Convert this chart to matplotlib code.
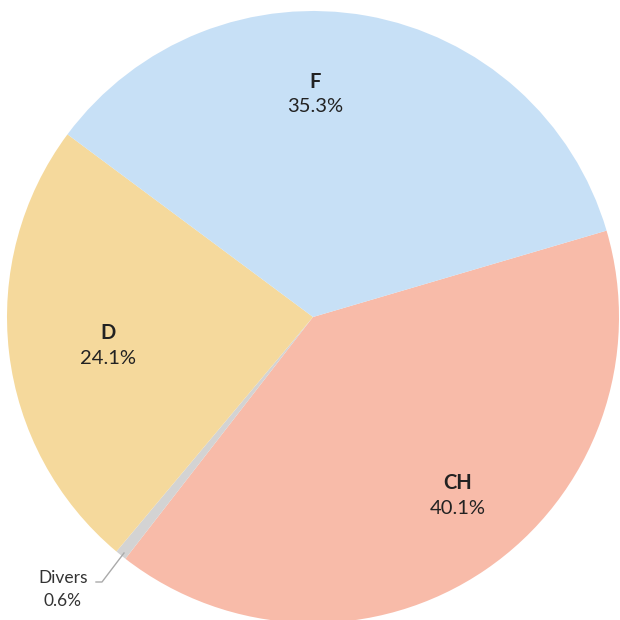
import matplotlib
matplotlib.use("Agg")
import matplotlib.pyplot as plt

labels = ["CH", "Divers", "D", "F"]
shares = [40.1, 0.6, 24.1, 35.3]
colors = ["#f8bba9", "#d3d3d3", "#f5d99c", "#c7e0f6"]

plt.rcParams["font.family"] = ["Lato", "DejaVu Sans"]

fig = plt.figure(figsize=(6.2, 6.2), dpi=100)
ax = fig.add_axes([0, 0, 1, 1])

cx, cy, r = 313, 620 - 317, 306
ax.pie(shares, colors=colors, startangle=16.4, counterclock=False,
       center=(cx, cy), radius=r, frame=True,
       wedgeprops=dict(linewidth=0))
ax.set_xlim(0, 620)
ax.set_ylim(0, 620)
ax.set_aspect("equal")
ax.axis("off")

# label positions (pixels, from top-left)
pos = {"CH": (458, 483), "D": (108, 333), "F": (315, 82), "Divers": (63, 578)}
for lab, val in zip(labels, shares):
    x, y = pos[lab]
    if lab == "Divers":
        ax.text(x, 620 - y, lab, ha="center", va="center", fontsize=12.5, color="#333333")
        ax.text(x, 620 - y - 23, f"{val}%", ha="center", va="center", fontsize=12.5, color="#333333")
    else:
        ax.text(x, 620 - y, lab, ha="center", va="center", fontsize=14.5,
                fontweight="bold", color="#222222")
        ax.text(x, 620 - y - 25, f"{val}%", ha="center", va="center", fontsize=14.5,
                color="#222222")

# leader line for Divers
ax.plot([96, 102, 124], [620 - 582, 620 - 582, 620 - 553], color="#aaaaaa", lw=1)

fig.savefig("out.png", dpi=100)
